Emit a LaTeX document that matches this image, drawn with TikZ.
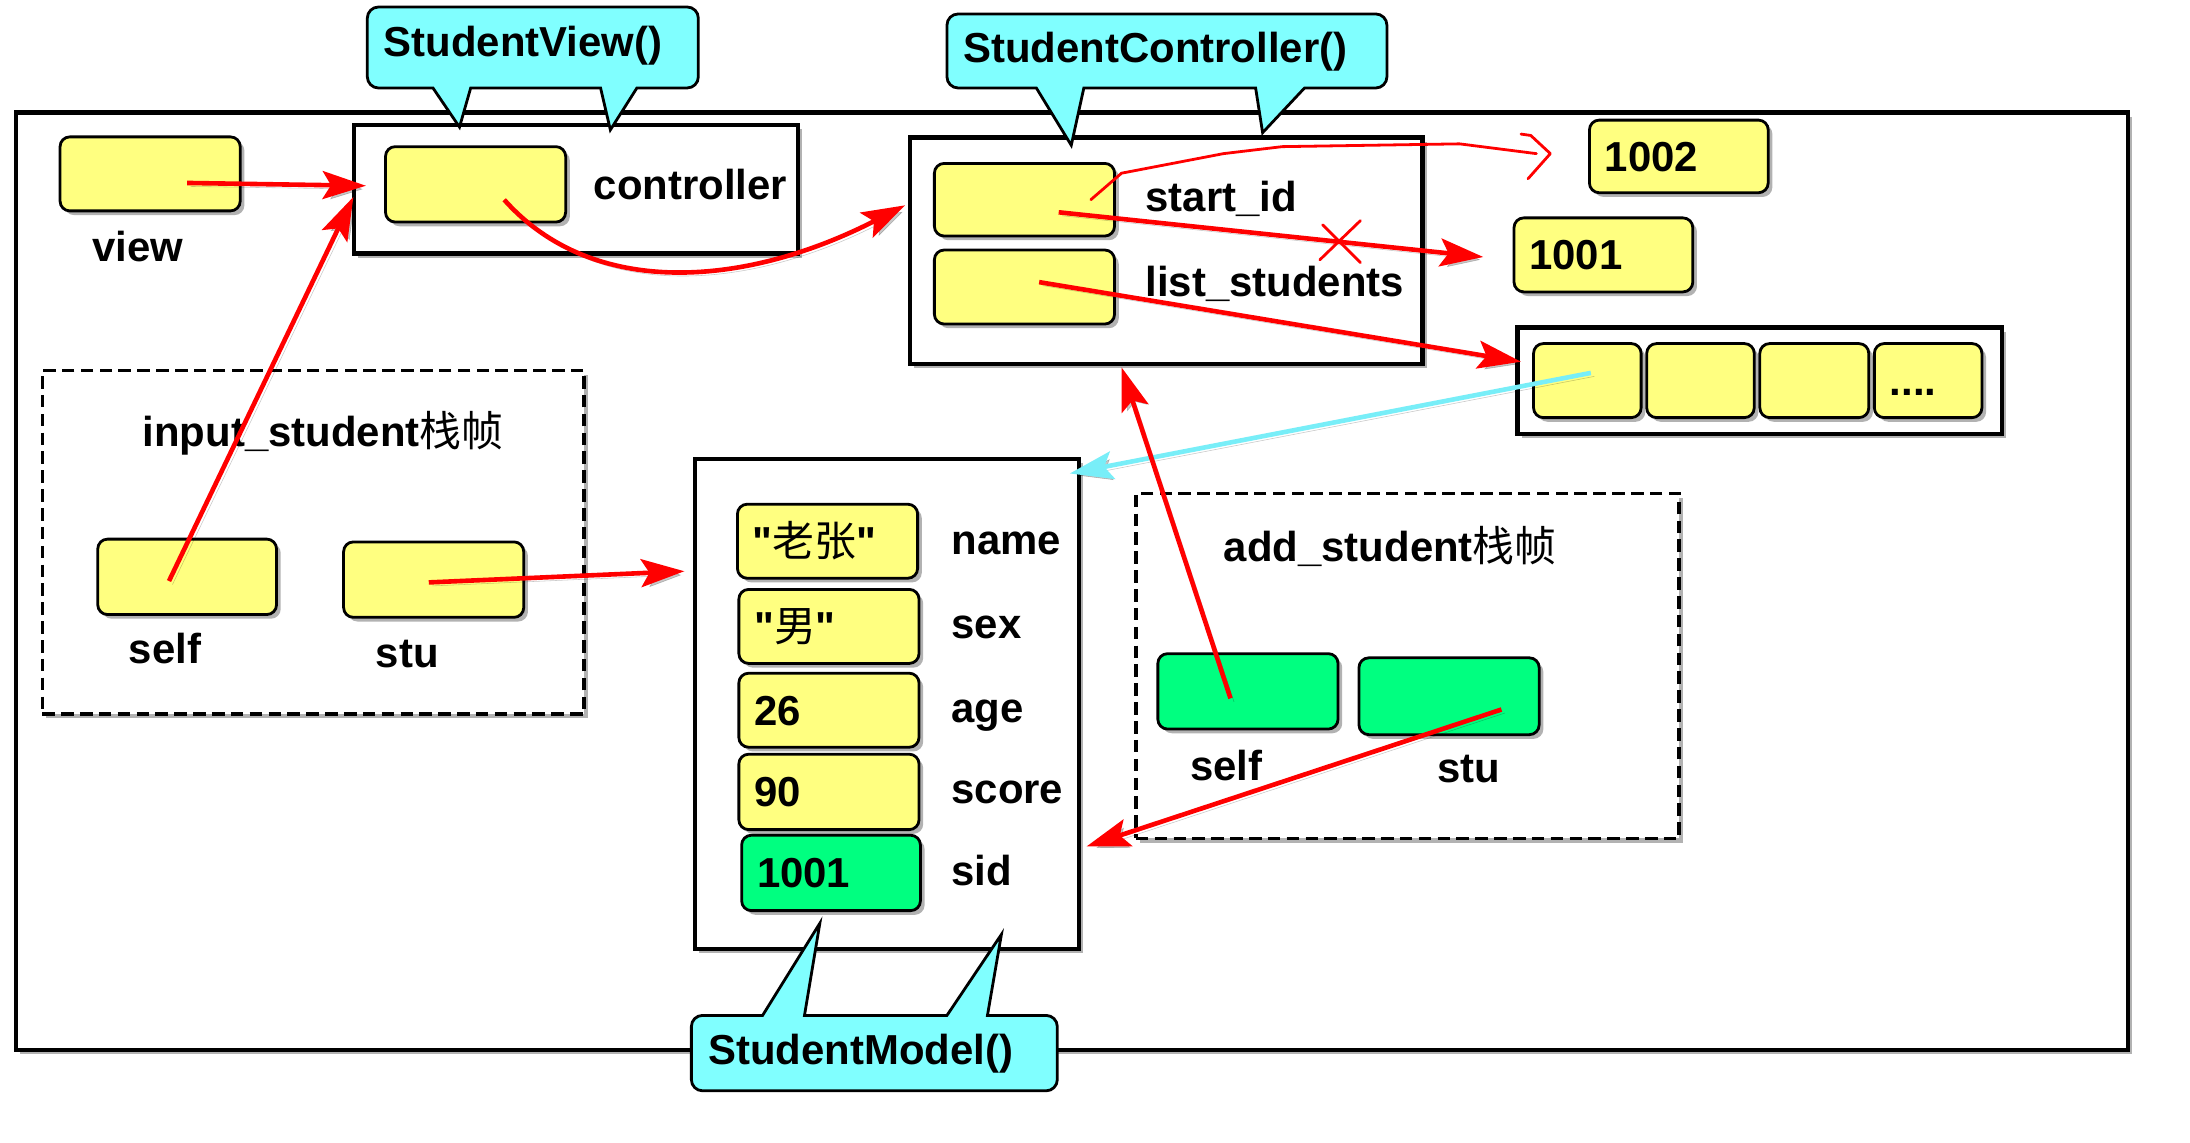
\documentclass[tikz,border=0pt]{standalone}
\usepackage{fontspec}
\setmainfont{Liberation Sans}[Ligatures=TeXOff]
\newfontfamily\cjk{Noto Sans CJK SC}
\usetikzlibrary{arrows.meta,shadows,calc}
\definecolor{boxyellow}{RGB}{255,255,128}
\definecolor{boxgreen}{RGB}{0,255,128}
\definecolor{callcyan}{RGB}{128,255,255}
\definecolor{linecyan}{RGB}{120,238,248}
\definecolor{arrred}{RGB}{255,0,0}
\tikzset{
  shadowed/.style={drop shadow={shadow xshift=3pt,shadow yshift=-3pt,opacity=0.3,fill=black}},
  objframe/.style={draw=black,line width=3pt,fill=white,shadowed,anchor=north west},
  stackframe/.style={draw=black,line width=2.5pt,dash pattern=on 9pt off 4.5pt,fill=white,shadowed,anchor=north west},
  ybox/.style={draw=black,line width=2pt,fill=boxyellow,rounded corners=7pt,shadowed,anchor=north west,inner xsep=11pt,text height=21.5pt,text depth=0pt},
  gbox/.style={ybox,fill=boxgreen},
  lbl/.style={anchor=base west},
  callout/.style={draw=black,line width=2pt,fill=callcyan,line join=miter},
  lineshadow/.style={preaction={draw=black,opacity=0.22,transform canvas={xshift=2.5pt,yshift=-2.5pt}}},
  redarr/.style={draw=arrred,line width=3.3pt,-{Stealth[length=31pt,width=20pt,inset=6pt]},lineshadow},
  cyanarr/.style={draw=linecyan,line width=3.3pt,-{Stealth[length=31pt,width=20pt,inset=6pt]},lineshadow},
  thinred/.style={draw=arrred,line width=2pt,line join=round,line cap=round},
}
\begin{document}
\begin{tikzpicture}[x=1pt,y=-1pt,
  every node/.style={font=\fontsize{30}{36}\selectfont\bfseries,inner sep=0pt}]
\useasboundingbox (0,0) rectangle (1568,818);

% outer frame
\node[objframe,minimum width=1512pt,minimum height=671pt] (outer) at (10,79) {};

% stack frames
\node[stackframe,minimum width=388pt,minimum height=246pt] (instack) at (29,264) {};
\node[stackframe,minimum width=389pt,minimum height=247pt] (adstack) at (812,352) {};

% object frames
\node[objframe,minimum width=318pt,minimum height=92pt] (vobj) at (252,88) {};
\node[objframe,minimum width=367pt,minimum height=162pt] (cobj) at (650,97) {};
\node[objframe,minimum width=347pt,minimum height=76pt] (lobj) at (1085,233) {};
\node[objframe,minimum width=275pt,minimum height=351pt] (mobj) at (496,327) {};

% small boxes
\node[ybox,minimum width=129pt,minimum height=53pt] (view) at (42,97) {};
\node[ybox,minimum width=129pt,minimum height=54pt] (ctrl) at (275,104) {};
\node[ybox,minimum width=129pt,minimum height=52pt] (startid) at (668,116) {};
\node[ybox,minimum width=129pt,minimum height=53pt] (liststu) at (668,178) {};
\node[ybox,minimum height=52pt,text width=106pt,align=left] (n1002) at (1137,85) {1002};
\node[ybox,minimum height=53pt,text width=106pt,align=left] (n1001) at (1083,155) {1001};
\node[ybox,minimum width=77pt,minimum height=53pt] (cell1) at (1097,245) {};
\node[ybox,minimum width=77pt,minimum height=53pt] (cell2) at (1178,245) {};
\node[ybox,minimum width=78pt,minimum height=53pt] (cell3) at (1259,245) {};
\node[ybox,minimum height=53pt,text width=55pt,align=left] (cell4) at (1341,245) {....};

\node[ybox,minimum height=53pt,text width=107pt,align=left] (fname) at (527,360) {"{\cjk\mdseries 老张}"};
\node[ybox,minimum height=53pt,text width=107pt,align=left] (fsex) at (528,421) {"{\cjk\mdseries 男}"};
\node[ybox,minimum height=53pt,text width=107pt,align=left] (fage) at (528,481) {26};
\node[ybox,minimum height=54pt,text width=107pt,align=left] (fscore) at (528,539) {90};
\node[gbox,minimum height=54pt,text width=106pt,align=left] (fsid) at (530,597) {1001};

\node[ybox,minimum width=128pt,minimum height=54pt] (inself) at (69,385) {};
\node[ybox,minimum width=129pt,minimum height=54pt] (instu) at (245,387) {};
\node[gbox,minimum width=129pt,minimum height=54pt] (adself) at (828,467) {};
\node[gbox,minimum width=129pt,minimum height=55pt] (adstu) at (972,470) {};

% labels
\node[lbl] (tview) at (66,187.5) {view};
\node[lbl] (tctrl) at (425,143) {controller};
\node[lbl] (tstart) at (820,151.5) {start\_id};
\node[lbl] (tlist) at (820,212.5) {list\_students};
\node[lbl] (tinstack) at (102,320) {input\_student{\cjk\mdseries 栈帧}};
\node[lbl] (tinself) at (92,475) {self};
\node[lbl] (tinstu) at (269,478) {stu};
\node[lbl] (tname) at (681,397) {name};
\node[lbl] (tsex) at (681,457.5) {sex};
\node[lbl] (tage) at (681,517.5) {age};
\node[lbl] (tscore) at (681,575) {score};
\node[lbl] (tsid) at (681,634) {sid};
\node[lbl] (tadstack) at (876,402) {add\_student{\cjk\mdseries 栈帧}};
\node[lbl] (tadself) at (852,558.5) {self};
\node[lbl] (tadstu) at (1029,560.5) {stu};

% arrow end points
\coordinate (viewp) at (134,131);
\coordinate (vobjin) at (262,133);
\coordinate (inselfp) at (121,416);
\coordinate (vobjin2) at (253,141);
\coordinate (ctrlp) at (361,143);
\coordinate (cobjin) at (648,147);
\coordinate (startp) at (758,152);
\coordinate (n1001in) at (1062,184);
\coordinate (listp) at (744,202);
\coordinate (cellin) at (1089,259);
\coordinate (startp2) at (781,143);
\coordinate (n1002in) at (1100,110);
\coordinate (cellp) at (1139,267);
\coordinate (mobjin) at (766,339);
\coordinate (instup) at (307,417);
\coordinate (mobjin2) at (490,409);
\coordinate (adselfp) at (881,500);
\coordinate (cobjin2) at (803,263);
\coordinate (adstup) at (1075,508);
\coordinate (mobjin3) at (778,606);

% arrows
\draw[redarr] (viewp) -- (vobjin);
\draw[redarr] (inselfp) -- (vobjin2);
\draw[redarr] (ctrlp) .. controls (425,215) and (535,205) .. (cobjin);
\draw[redarr] (startp) -- (n1001in);
\draw[redarr] (listp) -- (cellin);
\draw[thinred] (startp2) -- (803,124) -- (876,110) -- (918,105) -- (1045,103) -- (n1002in);
\draw[thinred] (1089,96) -- (1096,97) -- (1110,110) -- (1094,128);
\draw[thinred] (945,186) -- (974,158) (947,161) -- (974,188);
\draw[cyanarr] (cellp) -- (mobjin);
\draw[redarr] (instup) -- (mobjin2);
\draw[redarr] (adselfp) -- (cobjin2);
\draw[redarr] (adstup) -- (mobjin3);

% callouts
\draw[callout] (380,5) [rounded corners=8pt] -- (500,5) -- (500,63) -- (475,63) [sharp corners]
  -- (456,63) -- (437,93) -- (430,63) -- (337,63) -- (329,91) -- (310,63) -- (290,63)
  [rounded corners=8pt] -- (263,63) -- (263,5) -- cycle;
\node[lbl] (svt) at (274.5,40.5) {StudentView()};

\draw[callout] (835,10) [rounded corners=8pt] -- (993,10) -- (993,63) -- (965,63) [sharp corners]
  -- (934,63) -- (904,95) -- (899,63) -- (776,63) -- (767,104) -- (742,63) -- (715,63)
  [rounded corners=8pt] -- (678,63) -- (678,10) -- cycle;
\node[lbl] (sct) at (689.5,45) {StudentController()};

\draw[callout] (626,781) [rounded corners=8pt] -- (495,781) -- (495,727) -- (520,727) [sharp corners]
  -- (546,727) -- (587,661) -- (576,727) -- (678,727) -- (717,669) -- (707,727) -- (730,727)
  [rounded corners=8pt] -- (757,727) -- (757,781) -- cycle;
\node[lbl] (smt) at (507,762.5) {StudentModel()};
\end{tikzpicture}
\end{document}
